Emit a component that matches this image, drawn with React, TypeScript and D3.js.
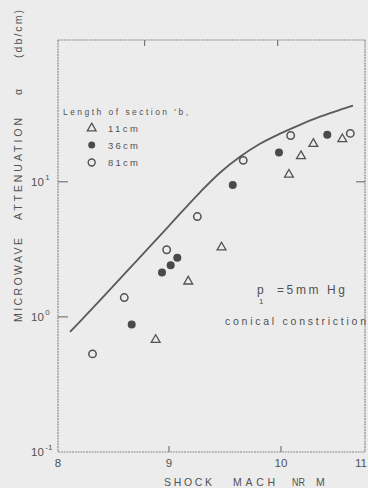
import React from "react";
import * as d3 from "d3";

// ---- data ----
const curveMach = [8.108, 8.198, 8.829, 9.0, 9.277, 9.455, 9.634, 9.8125, 9.991, 10.226, 10.464, 10.702, 10.857];
const curveAtten = [0.774, 0.923, 3.33, 4.72, 8.36, 11.66, 15.3, 19.1, 22.7, 26.4, 30.3, 34.1, 36.6];

const mach11 = [8.88, 9.172, 9.469, 10.095, 10.238, 10.385, 10.73];
const atten11 = [0.676, 1.83, 3.27, 11.3, 15.5, 19.1, 20.7];

const mach36 = [8.664, 8.937, 9.015, 9.074, 9.569, 9.982, 10.551];
const atten36 = [0.877, 2.13, 2.41, 2.74, 9.45, 16.5, 22.3];

const mach81 = [8.311, 8.597, 8.979, 9.253, 9.663, 10.115, 10.825];
const atten81 = [0.532, 1.39, 3.14, 5.53, 14.4, 22.0, 22.8];

const xTickValues = [8, 9, 10, 11];
const xTickLabels = ["8", "9", "10", "11"];
const yTickValues = [0.1, 1, 10];
const yTickExponents = ["-1", "0", "1"];
const topTickValues = [8.78, 9.97];
const rightTickValues = [10];

const legendLabels = ["11cm", "36cm", "81cm"];

const W = 368;
const H = 488;
const INK = "#525252";
const FONT = "'Liberation Sans', Arial, sans-serif";

export default function App() {
  const x = d3.scaleLinear().domain([8, 9, 10, 11]).range([58, 169, 281, 365]);
  const y = d3.scaleLog().domain([0.1, 112]).range([452, 40]);
  const [x0, x1] = [x(8), x(11)];
  const [yb, yt] = [y(0.1), y(112)];

  const curvePts: [number, number][] = curveMach.map((m, i) => [m, curveAtten[i]]);
  const line = d3
    .line<[number, number]>()
    .x((d) => x(d[0]))
    .y((d) => y(d[1]))
    .curve(d3.curveMonotoneX);

  const tri = d3.symbol(d3.symbolTriangle, 34)() as string;

  const legendX = 91.7;
  const legendY = [128.3, 145, 162.5];

  return (
    <svg
      width={W}
      height={H}
      style={{ position: "absolute", left: 0, top: 0, background: "#ececec" }}
      fontFamily={FONT}
    >
      <rect x={0} y={0} width={W} height={H} fill="#ececec" />
      {/* frame */}
      <g stroke="#8a8a8a" strokeWidth={1.2} fill="none" strokeDasharray="2 0.8">
        <line x1={x0} y1={yt} x2={x1} y2={yt} />
        <line x1={x0} y1={yb} x2={x1} y2={yb} />
        <line x1={x0} y1={yt} x2={x0} y2={yb} />
        <line x1={x1} y1={yt} x2={x1} y2={yb} />
      </g>
      {/* ticks */}
      <g stroke="#777" strokeWidth={1.2}>
        {xTickValues.slice(1, 3).map((v) => (
          <line key={"bx" + v} x1={x(v)} x2={x(v)} y1={yb} y2={yb - 6} />
        ))}
        {topTickValues.map((v) => (
          <line key={"tx" + v} x1={x(v)} x2={x(v)} y1={yt} y2={yt + 6} />
        ))}
        {yTickValues.slice(1).map((v) => (
          <line key={"ly" + v} x1={x0} x2={x0 + 10} y1={y(v)} y2={y(v)} />
        ))}
        {rightTickValues.map((v) => (
          <line key={"ry" + v} x1={x1 - 9} x2={x1} y1={y(v)} y2={y(v)} />
        ))}
      </g>
      {/* x tick labels */}
      <g fill={INK} fontSize={11.5}>
        {xTickValues.map((v, i) => {
          const px = x(v);
          const atEdge = px > W - 8;
          return (
            <text key={"xl" + v} x={atEdge ? W - 1 : px} y={467} textAnchor={atEdge ? "end" : "middle"}>
              {xTickLabels[i]}
            </text>
          );
        })}
      </g>
      {/* y tick labels */}
      <g fill={INK} fontSize={11.5}>
        {yTickValues.map((v, i) => (
          <text key={"yl" + v} x={31} y={y(v) + 4}>
            10
            <tspan fontSize={8} dy={-6} dx={1.5}>
              {yTickExponents[i]}
            </tspan>
          </text>
        ))}
      </g>
      {/* axis titles */}
      <g fill={INK} fontSize={10.5}>
        <text transform="translate(22,280) rotate(-90)" textAnchor="middle" textLength={84} lengthAdjust="spacing">
          MICROWAVE
        </text>
        <text transform="translate(22,169) rotate(-90)" textAnchor="middle" textLength={102} lengthAdjust="spacing">
          ATTENUATION
        </text>
        <text transform="translate(22,92) rotate(-90)" textAnchor="middle">
          α
        </text>
        <text transform="translate(22,34) rotate(-90)" textAnchor="middle" textLength={48} lengthAdjust="spacing">
          (db/cm)
        </text>
      </g>
      <g fill={INK} fontSize={10.5}>
        <text x={164} y={486} textLength={48} lengthAdjust="spacing">SHOCK</text>
        <text x={233} y={486} textLength={42} lengthAdjust="spacing">MACH</text>
        <text x={292} y={486} textLength={13} lengthAdjust="spacingAndGlyphs">NR</text>
        <text x={316} y={486}>M</text>
      </g>
      {/* curve */}
      <path d={line(curvePts) as string} fill="none" stroke="#5a5a5a" strokeWidth={1.8} />
      {/* points */}
      <g stroke={INK} strokeWidth={1.3} fill="none">
        {mach11.map((m, i) => (
          <path key={"t" + i} d={tri} transform={`translate(${x(m)},${y(atten11[i])})`} />
        ))}
        {mach81.map((m, i) => (
          <circle key={"o" + i} cx={x(m)} cy={y(atten81[i])} r={3.7} strokeWidth={1.5} />
        ))}
      </g>
      <g fill="#4a4a4a">
        {mach36.map((m, i) => (
          <circle key={"f" + i} cx={x(m)} cy={y(atten36[i])} r={4} />
        ))}
      </g>
      {/* legend */}
      <g fill={INK}>
        <text x={63} y={115} fontSize={8.5} textLength={125} lengthAdjust="spacing">
          Length  of  section 'b,
        </text>
        <path d={tri} transform={`translate(${legendX},${legendY[0]})`} fill="none" stroke={INK} strokeWidth={1.3} />
        <circle cx={legendX} cy={legendY[1]} r={3.5} fill="#4a4a4a" />
        <circle cx={legendX} cy={legendY[2]} r={3.5} fill="none" stroke={INK} strokeWidth={1.4} />
        {legendLabels.map((l, i) => (
          <text key={l} x={108} y={legendY[i] + 3.5} fontSize={9.5} textLength={30} lengthAdjust="spacing">
            {l}
          </text>
        ))}
      </g>
      {/* annotations */}
      <g fill={INK}>
        <text x={257} y={294} fontSize={12}>p</text>
        <text x={259} y={304} fontSize={8}>1</text>
        <text x={277} y={294} fontSize={12} textLength={68} lengthAdjust="spacing">=5mm Hg</text>
        <text x={225} y={325} fontSize={10.5} textLength={141} lengthAdjust="spacing">conical  constriction</text>
      </g>
    </svg>
  );
}
